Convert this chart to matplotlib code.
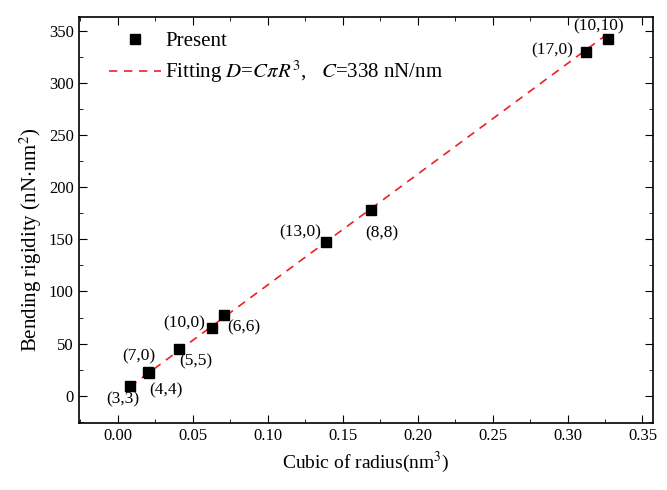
import numpy as np
import matplotlib.pyplot as plt
from matplotlib.ticker import MultipleLocator

plt.rcParams['font.family'] = 'Liberation Serif'
plt.rcParams['mathtext.fontset'] = 'stix'

# cubic of radius (nm^3) and bending rigidity (nN nm^2)
tubes = ['(3,3)', '(7,0)', '(4,4)', '(5,5)', '(10,0)', '(6,6)', '(13,0)', '(8,8)', '(17,0)', '(10,10)']
r3 = [0.008, 0.0205, 0.0207, 0.041, 0.063, 0.071, 0.139, 0.169, 0.312, 0.327]
D = [9.6, 22.5, 22, 45, 65, 77, 147, 178, 330, 342]
C = 338  # nN/nm

# label offsets in pixels (dx, dy)
offs = [(-7, -14), (-10, 16), (17, -18), (17, -13), (-28, 5), (20, -12),
        (-26, 10), (11, -23), (-33, 1), (-9, 13)]

fig = plt.figure(figsize=(6.67, 4.9), dpi=100)
ax = fig.add_axes([0.118, 0.137, 0.861, 0.828])

xf = np.array([min(r3), max(r3)])
ax.plot(xf, C*np.pi*xf, '--', color='#f02020', lw=1.2, dashes=(5, 4),
        label='Fitting $D$=$C\\pi R^3$,   $C$=338 nN/nm', zorder=2)
ax.plot(r3, D, 's', color='k', ms=7.5, label='Present', zorder=3)

for t, x, y, o in zip(tubes, r3, D, offs):
    ax.annotate(t, (x, y), xytext=o, textcoords='offset pixels',
                ha='center', va='center', fontsize=12.5)

ax.set_xlim(-0.026, 0.357)
ax.set_ylim(-26, 363)
ax.xaxis.set_major_locator(MultipleLocator(0.05))
ax.xaxis.set_minor_locator(MultipleLocator(0.025))
ax.yaxis.set_major_locator(MultipleLocator(50))
ax.yaxis.set_minor_locator(MultipleLocator(25))
ax.xaxis.set_major_formatter(plt.FormatStrFormatter('%.2f'))
ax.tick_params(which='both', direction='in', top=True, right=True, labelsize=12)
ax.tick_params(which='major', length=6)
ax.tick_params(which='minor', length=3)
for s in ax.spines.values():
    s.set_linewidth(1.2)

ax.set_xlabel('Cubic of radius(nm$^3$)', fontsize=14)
ax.set_ylabel('Bending rigidity (nN$\\cdot$nm$^2$)', fontsize=15)
ax.yaxis.set_label_coords(-0.06, 0.45)

h, l = ax.get_legend_handles_labels()
ax.legend(h[::-1], l[::-1], loc='upper left', frameon=False, fontsize=15,
          handlelength=2.5, handletextpad=0.2, labelspacing=0.35,
          bbox_to_anchor=(0.02, 1.01))

plt.savefig('out.png', dpi=100)
